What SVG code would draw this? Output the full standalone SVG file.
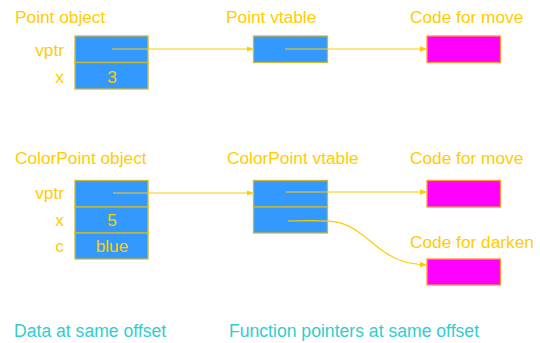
<svg xmlns="http://www.w3.org/2000/svg" width="540" height="343" viewBox="0 0 540 343">
  <style>
    text { font-family: "Liberation Sans", Arial, sans-serif; font-size: 17.3px; fill: #FFCC00; }
    .note { fill: #33CCCC; font-size: 17.6px; }
    .mid { text-anchor: middle; }
    .end { text-anchor: end; }
    .cell { fill: #3399FF; stroke: #CCB833; stroke-width: 1.3; }
    .code { fill: #FF00FF; stroke: #FF9933; stroke-width: 1.3; }
    .link { fill: none; stroke: #FFCC00; stroke-width: 1.2; marker-end: url(#head); }
  </style>
  <defs>
    <marker id="head" viewBox="0 0 10 10" refX="10" refY="5" markerWidth="7" markerHeight="7" markerUnits="userSpaceOnUse" orient="auto">
      <path d="M0,1 L10,5 L0,9 z" fill="#FFCC00"/>
    </marker>
  </defs>

  <rect width="540" height="343" fill="#FFFFFF"/>

  <!-- Point object -->
  <g id="point-object">
    <text x="15" y="23">Point object</text>
    <text class="end" x="64" y="56">vptr</text>
    <text class="end" x="64" y="83">x</text>
    <rect class="cell" x="75" y="36" width="73" height="26.5"/>
    <rect class="cell" x="75" y="62.5" width="73" height="26.5"/>
    <text class="mid" x="112" y="83">3</text>
  </g>

  <!-- Point vtable -->
  <g id="point-vtable">
    <text x="226" y="23">Point vtable</text>
    <rect class="cell" x="253.5" y="36" width="74" height="26.5"/>
  </g>

  <!-- Point move code -->
  <g id="point-move">
    <text x="410" y="23">Code for move</text>
    <rect class="code" x="427" y="36" width="73.5" height="26.5"/>
  </g>

  <!-- ColorPoint object -->
  <g id="colorpoint-object">
    <text x="15" y="164">ColorPoint object</text>
    <text class="end" x="64" y="199">vptr</text>
    <text class="end" x="64" y="226">x</text>
    <text class="end" x="64" y="252">c</text>
    <rect class="cell" x="75" y="180.5" width="73" height="26.5"/>
    <rect class="cell" x="75" y="207" width="73" height="26"/>
    <rect class="cell" x="75" y="233" width="73" height="26"/>
    <text class="mid" x="112" y="226">5</text>
    <text class="mid" x="112" y="252">blue</text>
  </g>

  <!-- ColorPoint vtable -->
  <g id="colorpoint-vtable">
    <text x="227" y="164">ColorPoint vtable</text>
    <rect class="cell" x="253.5" y="180.5" width="74" height="26.5"/>
    <rect class="cell" x="253.5" y="207" width="74" height="26"/>
  </g>

  <!-- ColorPoint move code -->
  <g id="colorpoint-move">
    <text x="410" y="164">Code for move</text>
    <rect class="code" x="427" y="180.5" width="73.5" height="26.5"/>
  </g>

  <!-- ColorPoint darken code -->
  <g id="colorpoint-darken">
    <text x="410" y="248">Code for darken</text>
    <rect class="code" x="427" y="259" width="73.5" height="26"/>
  </g>

  <!-- Pointers -->
  <g id="connectors">
    <path class="link" d="M112,49 L253.5,49"/>
    <path class="link" d="M285,49 L427,49"/>
    <path class="link" d="M113,193 L253.5,193"/>
    <path class="link" d="M286,192 L427,192"/>
    <path class="link" d="M288,221 C345,219 345,221 375,245 C395,262 410,264 427,265"/>
  </g>

  <!-- Notes -->
  <text class="note" x="14" y="337">Data at same offset</text>
  <text class="note" x="229" y="337">Function pointers at same offset</text>
</svg>
